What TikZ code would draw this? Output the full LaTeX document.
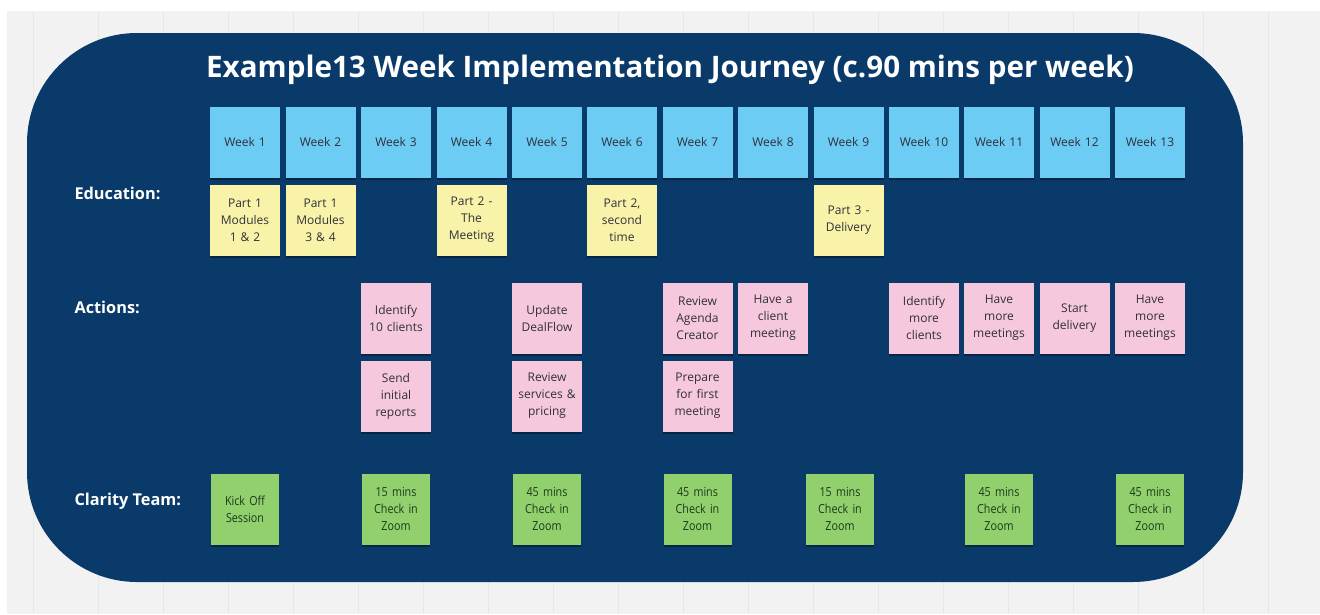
\documentclass[tikz,border=0pt]{standalone}
\usepackage{fontspec}
\setmainfont{Open Sans}
\newfontfamily\narrowfont[FakeStretch=0.86]{Open Sans}
\usetikzlibrary{shadows}

\definecolor{navy}{RGB}{9,58,106}
\definecolor{weekblue}{RGB}{108,204,244}
\definecolor{eduyellow}{RGB}{249,243,170}
\definecolor{actpink}{RGB}{246,200,221}
\definecolor{teamgreen}{RGB}{145,208,108}
\definecolor{stickytext}{RGB}{48,48,58}
\definecolor{teamtext}{RGB}{28,58,28}
\definecolor{boardgrey}{RGB}{242,242,242}
\definecolor{boardline}{RGB}{231,231,231}

\tikzset{
	sticky/.style={minimum height=71pt, text width=66pt, inner sep=2pt, align=center,
		text=stickytext, font=\fontsize{12}{17}\selectfont,
		drop shadow={shadow xshift=0pt, shadow yshift=-2pt, opacity=0.35, fill=black}},
	weekbox/.style={sticky, fill=weekblue},
	edubox/.style={sticky, fill=eduyellow},
	actbox/.style={sticky, fill=actpink},
	teambox/.style={sticky, fill=teamgreen, text=teamtext, text width=64pt,
		font=\narrowfont\fontsize{12.5}{17}\selectfont},
	rowlabel/.style={anchor=west, text=white, font=\bfseries\fontsize{16.3}{19}\selectfont},
}

\begin{document}
\begin{tikzpicture}[x=1pt,y=-1pt]
	\useasboundingbox (0,0) rectangle (1320,614);
	
	% board
	\fill[boardgrey] (7,11) rectangle (1320,614);
	\draw[boardline, line width=1pt, shift={(33,35)}] (-26,-24) grid[step=65] (1287,579);
	\fill[navy, rounded corners=110pt] (27,33) rectangle (1243,582);
	
	\node (title)[text=white, font=\bfseries\fontsize{29.6}{34}\selectfont] at (670,70)
	{Example13 Week Implementation Journey (c.90 mins per week)};
	
	\node (edu)[rowlabel] at (71,193) {Education:};
	\node (act)[rowlabel] at (71,307) {Actions:};
	\node (team)[rowlabel] at (71,501) {Clarity Team:};
	
	% weeks
	\node (w1)[weekbox] at (245,142) {Week 1};
	\node (w2)[weekbox] at (320.5,142) {Week 2};
	\node (w3)[weekbox] at (396,142) {Week 3};
	\node (w4)[weekbox] at (471.5,142) {Week 4};
	\node (w5)[weekbox] at (547,142) {Week 5};
	\node (w6)[weekbox] at (622,142) {Week 6};
	\node (w7)[weekbox] at (697.5,142) {Week 7};
	\node (w8)[weekbox] at (773,142) {Week 8};
	\node (w9)[weekbox] at (848.5,142) {Week 9};
	\node (w10)[weekbox] at (924,142) {Week 10};
	\node (w11)[weekbox] at (999,142) {Week 11};
	\node (w12)[weekbox] at (1074.5,142) {Week 12};
	\node (w13)[weekbox] at (1150,142) {Week 13};
	
	% education
	\node (e1)[edubox] at (245,220) {Part 1\\Modules\\1 \& 2};
	\node (e2)[edubox] at (320.5,220) {Part 1\\Modules\\3 \& 4};
	\node (e4)[edubox] at (471.5,220) {Part 2 -\\The\\Meeting};
	\node (e6)[edubox] at (622,220) {Part 2,\\second\\time};
	\node (e9)[edubox] at (848.5,220) {Part 3 -\\Delivery};
	
	% actions
	\node (a3)[actbox] at (396,318) {Identify\\10 clients};
	\node (a5)[actbox] at (547,318) {Update\\DealFlow};
	\node (a7)[actbox] at (697.5,318) {Review\\Agenda\\Creator};
	\node (a8)[actbox] at (773,318) {Have a\\client\\meeting};
	\node (a10)[actbox] at (924,318) {Identify\\more\\clients};
	\node (a11)[actbox] at (999,318) {Have\\more\\meetings};
	\node (a12)[actbox] at (1074.5,318) {Start\\delivery};
	\node (a13)[actbox] at (1150,318) {Have\\more\\meetings};
	
	\node (b3)[actbox] at (396,396) {Send\\initial\\reports};
	\node (b5)[actbox] at (547,396) {Review\\services \&\\pricing};
	\node (b7)[actbox] at (697.5,396) {Prepare\\for first\\meeting};
	
	% clarity team
	\node (t1)[teambox] at (245,509) {Kick Off\\Session};
	\node (t3)[teambox] at (396,509) {15 mins\\Check in\\Zoom};
	\node (t5)[teambox] at (547,509) {45 mins\\Check in\\Zoom};
	\node (t7)[teambox] at (697.5,509) {45 mins\\Check in\\Zoom};
	\node (t9)[teambox] at (840,509) {15 mins\\Check in\\Zoom};
	\node (t11)[teambox] at (999,509) {45 mins\\Check in\\Zoom};
	\node (t13)[teambox] at (1150,509) {45 mins\\Check in\\Zoom};
\end{tikzpicture}
\end{document}
